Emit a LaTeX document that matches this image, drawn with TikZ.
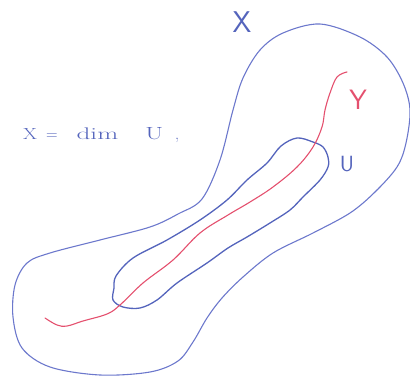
\documentclass[tikz,border=0pt]{standalone}
\usepackage{fontspec}
\definecolor{penX}{HTML}{6C78CC}
\definecolor{penU}{HTML}{5464BC}
\definecolor{penY}{HTML}{E4506E}
\tikzset{
  outlineX/.style={draw=penX, line width=1.1pt, line join=round, line cap=round},
  outlineU/.style={draw=penU, line width=1.3pt, line join=round, line cap=round},
  curveY/.style={draw=penY, line width=1.1pt, line cap=round},
  hand/.style={inner sep=0pt, font=\sffamily},
}
\begin{document}
\begin{tikzpicture}[x=1pt, y=-1pt]
\useasboundingbox (0,0) rectangle (410,377);
% X
\draw[outlineX] plot[smooth cycle, tension=0.55] coordinates {
 (320,24) (360,37) (387,57) (403,83) (410,110) (406,143) (397,167) (375,192)
 (350,213) (313,233) (273,253) (243,277) (222,298) (207,318) (193,342) (178,361)
 (150,372) (100,375) (50,367) (22,348) (13,317) (15,285) (27,263) (50,253)
 (100,240) (150,227) (178,214) (202,199) (220,160) (233,110) (243,78) (260,50) (283,33)};
% U
\draw[outlineU] plot[smooth cycle, tension=0.55] coordinates {
 (297,138) (313,142) (323,147) (328,157) (328,167) (320,180) (303,197) (290,210)
 (270,223) (247,237) (228,248) (207,263) (177,283) (157,300) (140,308) (123,307)
 (113,300) (114,288) (116,276) (133,258) (167,240) (200,220) (227,200) (247,180)
 (267,163) (281,146)};
% Y
\draw[curveY] plot[smooth, tension=0.6] coordinates {
 (347,72) (337,77) (330,93) (325,110) (322,127) (313,147) (297,167) (273,187)
 (250,202) (228,215) (200,233) (173,260) (143,283) (120,305) (107,314) (83,321)
 (67,326) (57,325) (45,318)};
% labels
\node[hand, text=penU, font=\sffamily\fontsize{30}{30}\selectfont] (lx) at (242,22) {X};
\node[hand, text=penY, font=\sffamily\fontsize{28}{28}\selectfont] (ly) at (358,100) {Y};
\node[hand, text=penU, font=\sffamily\fontsize{22}{22}\selectfont] (lu) at (347,164) {U};
\node[hand, text=penU, anchor=base west, font=\fontsize{16}{16}\selectfont] (eq) at (23,140)
  {\scalebox{1.25}[1]{X}\hspace{9pt}=\hspace{19pt}\scalebox{1.7}[1.05]{dim}\hspace{27pt}\scalebox{1.6}[1.1]{U}\hspace{12pt},};
\end{tikzpicture}
\end{document}
